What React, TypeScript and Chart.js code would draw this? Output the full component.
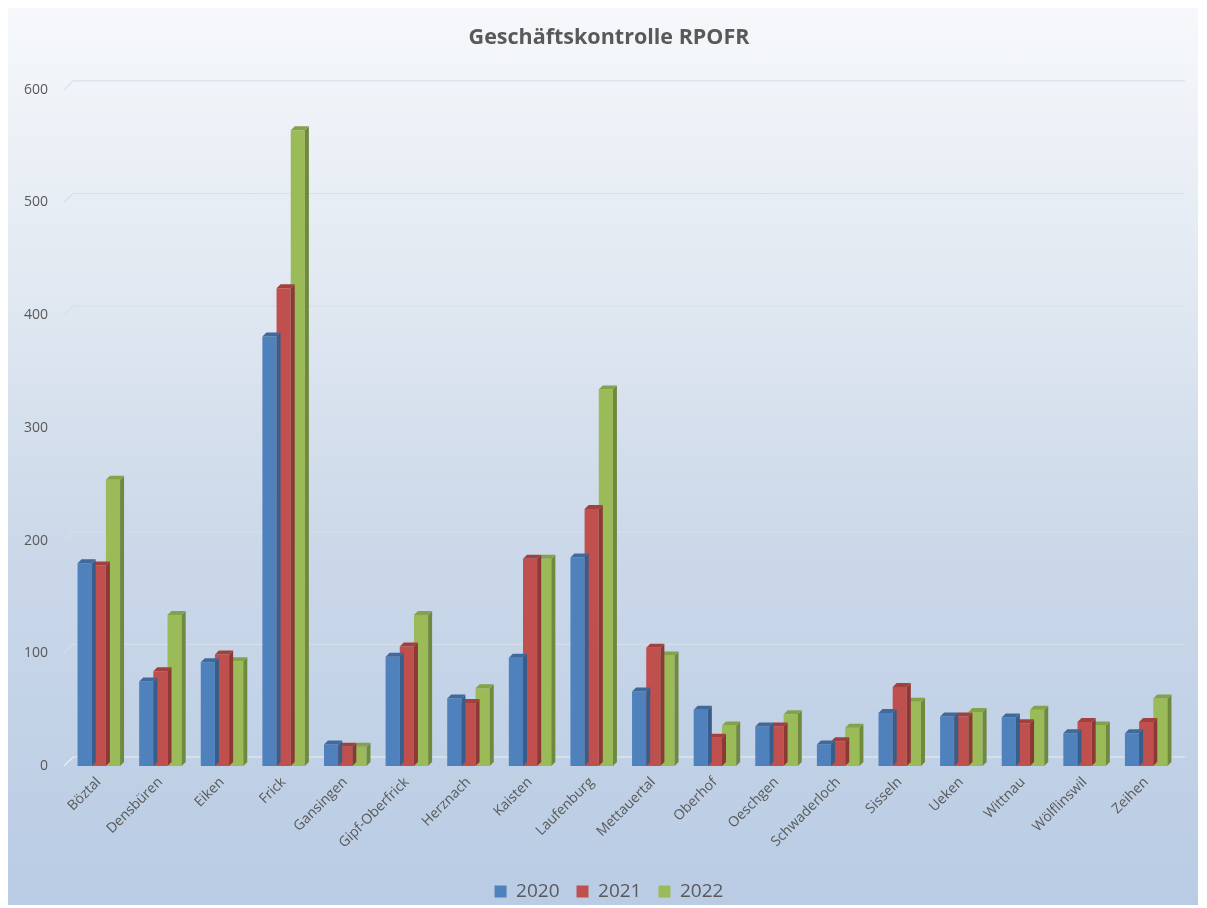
import React, { useEffect, useRef } from "react";
import { Chart, registerables } from "chart.js";

Chart.register(...registerables);

const title = "Geschäftskontrolle RPOFR";
const categories = [
  "Böztal", "Densbüren", "Eiken", "Frick", "Gansingen", "Gipf-Oberfrick",
  "Herznach", "Kaisten", "Laufenburg", "Mettauertal", "Oberhof", "Oeschgen",
  "Schwaderloch", "Sisseln", "Ueken", "Wittnau", "Wölflinswil", "Zeihen",
];
const seriesNames = ["2020", "2021", "2022"];
const values2020 = [180, 75, 92, 381, 19, 97, 60, 96, 185, 66, 50, 35, 19, 47, 44, 43, 29, 29];
const values2021 = [178, 84, 99, 424, 17, 106, 56, 184, 228, 105, 25, 35, 22, 70, 44, 38, 39, 39];
const values2022 = [254, 134, 93, 564, 17, 134, 69, 184, 334, 98, 36, 46, 34, 57, 48, 50, 36, 60];
const yTicks = [0, 100, 200, 300, 400, 500, 600];

const FONT = "'Open Sans', 'DejaVu Sans', sans-serif";
const frontColors = ["#4f81bd", "#c0504d", "#9bbb59"];
const sideColors = ["#385d8a", "#8c3836", "#71893f"];
const topColors = ["#41699a", "#a2403e", "#84a24a"];

const DEPTH = 4;
const WALL_DX = 9;
const WALL_DY = 9;

const bar3d = {
  id: "bar3d",
  afterDatasetDraw(chart: any, args: any) {
    const { ctx } = chart;
    const i = args.index;
    const meta = args.meta;
    ctx.save();
    meta.data.forEach((el: any) => {
      const { x, y, base, width } = el.getProps(["x", "y", "base", "width"], true);
      const l = x - width / 2;
      const r = x + width / 2;
      ctx.fillStyle = sideColors[i];
      ctx.beginPath();
      ctx.moveTo(r, y);
      ctx.lineTo(r + DEPTH, y - DEPTH);
      ctx.lineTo(r + DEPTH, base - DEPTH);
      ctx.lineTo(r, base);
      ctx.closePath();
      ctx.fill();
      ctx.fillStyle = topColors[i];
      ctx.beginPath();
      ctx.moveTo(l, y);
      ctx.lineTo(l + DEPTH, y - DEPTH);
      ctx.lineTo(r + DEPTH, y - DEPTH);
      ctx.lineTo(r, y);
      ctx.closePath();
      ctx.fill();
    });
    ctx.restore();
  },
};

const wallGrid = {
  id: "wallGrid",
  beforeDatasetsDraw(chart: any) {
    const { ctx, chartArea } = chart;
    const ys = chart.scales.y;
    ctx.save();
    ctx.lineWidth = 1.2;
    yTicks.forEach((v) => {
      const py = ys.getPixelForValue(v);
      ctx.strokeStyle = v === 0 ? "rgba(235,240,247,0.95)" : "rgba(214,221,231,0.95)";
      ctx.beginPath();
      ctx.moveTo(chartArea.left - 4, py);
      ctx.lineTo(chartArea.left - 4 + WALL_DX, py - WALL_DY);
      ctx.lineTo(chartArea.right + 8, py - WALL_DY);
      ctx.stroke();
    });
    ctx.restore();
  },
};

export default function App() {
  const ref = useRef<HTMLCanvasElement | null>(null);
  useEffect(() => {
    if (!ref.current) return;
    const all = [values2020, values2021, values2022];
    const chart = new Chart(ref.current, {
      type: "bar",
      data: {
        labels: categories,
        datasets: seriesNames.map((n, i) => ({
          label: n,
          data: all[i],
          backgroundColor: frontColors[i],
          borderWidth: 0,
          categoryPercentage: 0.69,
          barPercentage: 1,
        })),
      },
      options: {
        animation: false,
        responsive: true,
        maintainAspectRatio: false,
        layout: { padding: { left: 12, right: 0, top: 5, bottom: -6 } },
        plugins: {
          title: {
            display: true,
            text: title,
            color: "#595959",
            font: { family: FONT, size: 21.5, weight: "bold" },
            padding: { top: 12, bottom: 39 },
          },
          legend: {
            position: "bottom",
            labels: {
              color: "#595959",
              font: { family: FONT, size: 19 },
              boxWidth: 12,
              boxHeight: 12,
              padding: 17,
            },
          },
          tooltip: { enabled: false },
        },
        scales: {
          x: {
            grid: { display: false },
            border: { display: false },
            afterFit: (s: any) => {
              s.height = 99;
            },
            ticks: {
              color: "#595959",
              font: { family: FONT, size: 14 },
              maxRotation: 45,
              minRotation: 45,
              autoSkip: false,
              padding: 0,
            },
          },
          y: {
            min: 0,
            max: 600,
            grid: { display: false },
            border: { display: false },
            afterFit: (s: any) => {
              s.width = 48;
            },
            afterBuildTicks: (s: any) => {
              s.ticks = yTicks.map((v) => ({ value: v }));
            },
            ticks: {
              color: "#595959",
              font: { family: FONT, size: 14 },
              padding: 12,
            },
          },
          yRight: {
            type: "linear",
            position: "right",
            display: true,
            grid: { display: false },
            border: { display: false },
            ticks: { display: false },
            afterFit: (s: any) => {
              s.width = 21;
            },
          },
        },
      },
      plugins: [wallGrid, bar3d],
    });
    return () => chart.destroy();
  }, []);
  return (
    <div
      style={{
        width: 1190,
        height: 897,
        background: "linear-gradient(to bottom, #f6f8fb 0%, #e2e9f2 30%, #cbd8e9 60%, #b9cce4 100%)",
      }}
    >
      <canvas ref={ref} />
    </div>
  );
}
